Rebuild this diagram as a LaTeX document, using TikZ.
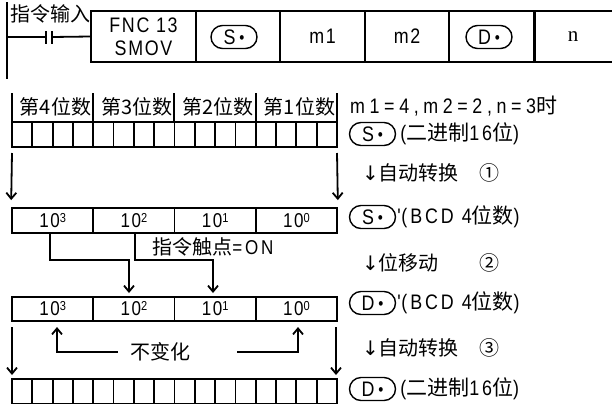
\documentclass[tikz,border=0pt]{standalone}
\usepackage{fontspec}
\setmainfont{Liberation Sans}
\newfontfamily\cjk{Noto Sans CJK SC}
\newfontfamily\nar{Liberation Sans}[FakeStretch=0.85,LetterSpace=8]
\newfontfamily\nsp{Liberation Sans}[FakeStretch=0.85,LetterSpace=14]
\newfontfamily\nwd{Liberation Sans}[FakeStretch=0.85,LetterSpace=22]
\newfontfamily\srf{Liberation Serif}
\newfontfamily\dvs{DejaVu Sans}
\usetikzlibrary{arrows.meta,shapes.misc}
\newcommand{\sdot}{\hspace{4pt}\raisebox{1pt}{\fontsize{17}{17}\selectfont\textbullet}}
\newcommand{\tick}{\textquotesingle}
\newcommand{\pw}[1]{10\raisebox{5pt}{\fontsize{13}{13}\selectfont #1}}
\begin{document}
\begin{tikzpicture}[x=1pt,y=-1pt,
  ln/.style={line width=1.8pt},
  arr/.style={line width=1.8pt,-{Straight Barb[length=6pt,width=10pt]}},
  box/.style={draw,line width=1.8pt,inner sep=0pt,minimum height=51pt},
  cell/.style={draw,line width=1.8pt,inner sep=0pt,minimum width=81.25pt,font=\nar\fontsize{20}{20}\selectfont},
  opd/.style={draw,rounded rectangle,line width=1.4pt,minimum width=46pt,minimum height=23pt,inner sep=0pt,font=\nar\fontsize{21}{21}\selectfont},
  ctxt/.style={inner sep=0pt,font=\cjk\fontsize{20}{20}\selectfont},
  ltxt/.style={inner sep=0pt,font=\nsp\fontsize{21}{21}\selectfont},
  ]
\useasboundingbox (0,0) rectangle (612,405);

% ---------- ladder rung ----------
\node[ctxt] (lbl) at (50,13.5) {指令输入};
\coordinate (rt) at (7,2);
\coordinate (rb) at (7,79);
\draw[ln] (rt) -- (rb);
\coordinate (ca) at (46,37);
\coordinate (cb) at (52,37);
\draw[ln] (rt|-ca) -- (ca);
\draw[ln] ([yshift=6pt]ca) -- ([yshift=-7pt]ca);
\draw[ln] ([yshift=6pt]cb) -- ([yshift=-7pt]cb);

\node[box,minimum width=105pt,align=center,font=\nar\fontsize{21}{23}\selectfont] (fnc) at (143.5,36.5) {FNC 13\\SMOV};
\draw[ln] (cb) -- (fnc.west);
\node[box,minimum width=84pt] (cs) at (238,36.5) {};
\node[box,minimum width=85pt,font=\nar\fontsize{21}{21}\selectfont] (cm1) at (322.5,36.5) {m1};
\node[box,minimum width=84pt,font=\nar\fontsize{21}{21}\selectfont] (cm2) at (407,36.5) {m2};
\node[box,minimum width=85pt] (cd) at (491.5,36.5) {};
\node[box,minimum width=90pt,anchor=west] (cn) at (534,36.5) {};
\node[inner sep=0pt,font=\srf\fontsize{21}{21}\selectfont] (nn) at (573,36.5) {n};
\node[opd] (ops) at (234,37) {S\sdot};
\node[opd] (opd) at (489,37) {D\sdot};

% ---------- digit headers ----------
\foreach \x in {12,93,174,256,337} \draw[ln] (\x,93) -- (\x,122);
\node[ctxt] (h4) at (55.5,107) {第4位数};
\node[ctxt] (h3) at (137,107) {第3位数};
\node[ctxt] (h2) at (218,107) {第2位数};
\node[ctxt] (h1) at (299.5,107) {第1位数};

% binary grid 1
\draw[ln] (12,122) rectangle (337,147);
\foreach \i in {1,...,15} \draw[ln] ({12+\i*20.3125},122) -- ++(0,25);

% BCD row
\node[cell,minimum height=25pt] (b3) at (52.6,220.5) {\pw{3}};
\node[cell,minimum height=25pt] (b2) at (133.9,220.5) {\pw{2}};
\node[cell,minimum height=25pt] (b1) at (215.1,220.5) {\pw{1}};
\node[cell,minimum height=25pt] (b0) at (296.4,220.5) {\pw{0}};

\coordinate (a1) at (12,153);
\coordinate (a2) at (337,153);
\draw[arr,shorten >=7pt] (a1) -- (b3.north west);
\draw[arr,shorten >=7pt] (a2) -- (b0.north east);

% D row
\node[cell,minimum height=24pt] (d3) at (52.6,309) {\pw{3}};
\node[cell,minimum height=24pt] (d2) at (133.9,309) {\pw{2}};
\node[cell,minimum height=24pt] (d1) at (215.1,309) {\pw{1}};
\node[cell,minimum height=24pt] (d0) at (296.4,309) {\pw{0}};

% shift arrows
\coordinate (t2) at (129,293);
\coordinate (t1) at (213,293);
\draw[arr] ([xshift=-2.6pt]b3.south) -- ++(0,26) -| (t2);
\draw[arr] ([xshift=1.1pt]b2.south) -- ++(0,26) -| (t1);
\node[ctxt] (on) at (213,247) {指令触点{\nsp =ON}};

% lower arrows
\coordinate (a3) at (12,327);
\coordinate (a4) at (336,327);
\coordinate (a3e) at (12,375);
\coordinate (a4e) at (336,375);
\draw[arr] (a3) -- (a3e);
\draw[arr] (a4) -- (a4e);

\node[ctxt] (same) at (160,352) {不变化};
\coordinate (u3) at (57,327);
\coordinate (u0) at (298,327);
\draw[arr] ([xshift=-12pt]same.west) -| (u3);
\draw[arr] ([xshift=47pt]same.east) -| (u0);

% binary grid 2
\draw[ln] (12,379) rectangle (337,403.5);
\foreach \i in {1,...,15} \draw[ln] ({12+\i*20.3125},379) -- ++(0,24.5);

% ---------- right-side notes ----------
\node[inner sep=0pt,font=\nwd\fontsize{21}{21}\selectfont,anchor=west] (cond) at (350,106) {m1=4,m2=2,n=3{\cjk 时}};
\node[opd] (s1) at (372.5,134) {S\sdot};
\node[ltxt,anchor=west] (s1t) at ([xshift=4pt]s1.east) {({\cjk 二进制}16{\cjk 位})};
\node[ctxt,anchor=west] (st1) at (362,173) {{\dvs ↓}自动转换};
\node[ctxt] (n1) at (489,173) {①};
\node[opd] (s2) at (372.5,217) {S\sdot};
\node[ltxt,anchor=west] (s2t) at ([xshift=1pt]s2.east) {\tick(BCD 4{\cjk 位数})};
\node[ctxt,anchor=west] (st2) at (362,263) {{\dvs ↓}位移动};
\node[ctxt] (n2) at (489,263) {②};
\node[opd] (d2s) at (372.5,303) {D\sdot};
\node[ltxt,anchor=west] (d2t) at ([xshift=1pt]d2s.east) {\tick(BCD 4{\cjk 位数})};
\node[ctxt,anchor=west] (st3) at (362,348) {{\dvs ↓}自动转换};
\node[ctxt] (n3) at (489,348) {③};
\node[opd] (d1s) at (372.5,389) {D\sdot};
\node[ltxt,anchor=west] (d1t) at ([xshift=4pt]d1s.east) {({\cjk 二进制}16{\cjk 位})};
\end{tikzpicture}
\end{document}
